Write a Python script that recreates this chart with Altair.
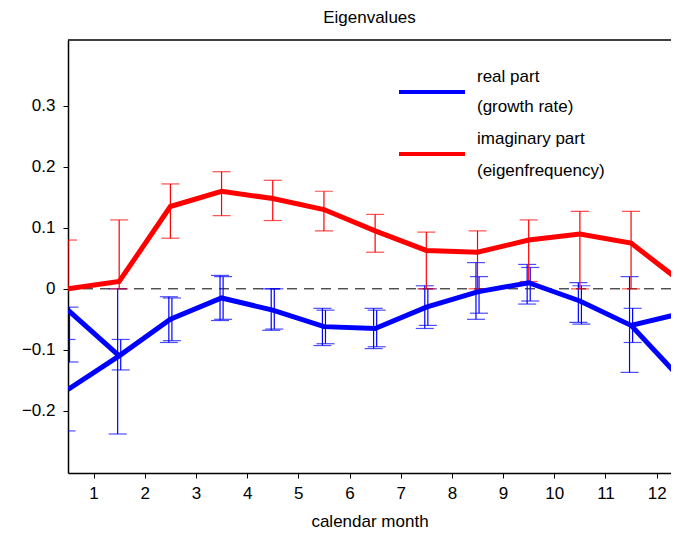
import altair as alt
import pandas as pd

x_pos = [0.5, 1.5, 2.5, 3.5, 4.5, 5.5, 6.5, 7.5, 8.5, 9.5, 10.5, 11.5, 12.5]
real_part = [-0.165, -0.11, -0.05, -0.015, -0.035, -0.062, -0.065, -0.03, -0.005, 0.01, -0.02, -0.06, -0.04]
imag_part = [0.0, 0.012, 0.135, 0.16, 0.148, 0.13, 0.095, 0.063, 0.06, 0.08, 0.09, 0.075, 0.01]
# wrap-around pieces of the real part at the two ends
wrap_x = [0.5, 1.5, 11.5, 12.5]
wrap_y = [-0.035, -0.11, -0.06, -0.15]
wrap_seg = ["a", "a", "b", "b"]

# error bars (two estimates per month for the real part)
real_err_x = [0.47, 0.53, 1.47, 1.53, 2.47, 2.53, 3.47, 3.53, 4.47, 4.53, 5.47, 5.53, 6.47, 6.53,
              7.47, 7.53, 8.47, 8.53, 9.47, 9.53, 10.47, 10.53, 11.47, 11.53]
real_lo = [-0.233, -0.12, -0.238, -0.133, -0.088, -0.085, -0.052, -0.05, -0.068, -0.066, -0.093, -0.09,
           -0.098, -0.095, -0.065, -0.06, -0.05, -0.04, -0.025, -0.02, -0.055, -0.058, -0.137, -0.088]
real_hi = [-0.083, -0.03, 0.0, -0.083, -0.013, -0.015, 0.022, 0.02, 0.0, 0.0, -0.032, -0.035,
           -0.032, -0.035, 0.005, 0.0, 0.043, 0.02, 0.04, 0.035, 0.01, 0.005, 0.02, -0.032]
imag_err_x = [0.5, 1.5, 2.5, 3.5, 4.5, 5.5, 6.5, 7.5, 8.5, 9.5, 10.5, 11.5]
imag_lo = [0.0, 0.0, 0.083, 0.12, 0.112, 0.095, 0.06, 0.0, 0.0, 0.012, 0.0, 0.0]
imag_hi = [0.08, 0.113, 0.172, 0.192, 0.178, 0.16, 0.122, 0.093, 0.095, 0.113, 0.127, 0.127]

BLUE = "#0000ff"
RED = "#ff0000"
FONT = "Liberation Sans"

# the plot runs past the right edge of the window, as in the reference
xs = alt.Scale(domain=[0.5, 12.28], nice=False, zero=False)
ys = alt.Scale(domain=[-0.302, 0.408], nice=False, zero=False)
xax = alt.Axis(values=list(range(1, 13)), title="calendar month", grid=False, tickSize=5,
               labelFontSize=17, titleFontSize=17, labelColor="black", titleColor="black",
               titleFontWeight="normal", domainColor="black", tickColor="black", labelFont=FONT,
               titleFont=FONT, titlePadding=12, labelPadding=7)
yax = alt.Axis(values=[-0.2, -0.1, 0, 0.1, 0.2, 0.3], title=None, grid=False, tickSize=5,
               labelFontSize=17, labelColor="black", domainColor="black", tickColor="black",
               labelFont=FONT, labelPadding=8,
               labelExpr="datum.value == 0 ? '0' : format(datum.value, '.1f')")

main = pd.DataFrame({"x": x_pos, "real": real_part, "imag": imag_part})
wrap = pd.DataFrame({"x": wrap_x, "y": wrap_y, "seg": wrap_seg})
rerr = pd.DataFrame({"x": real_err_x, "lo": real_lo, "hi": real_hi})
ierr = pd.DataFrame({"x": imag_err_x, "lo": imag_lo, "hi": imag_hi})

zero = alt.Chart(pd.DataFrame({"y": [0]})).mark_rule(
    color="black", strokeDash=[10, 7], strokeWidth=1).encode(
    y=alt.Y("y:Q", scale=ys, axis=yax))

top_border = alt.Chart(pd.DataFrame({"a": [0]})).mark_rule(color="black", strokeWidth=1.5).encode(
    x=alt.value(0), x2=alt.value(603), y=alt.value(0))

def errbars(df, color):
    base = alt.Chart(df)
    bar = base.mark_rule(color=color, strokeWidth=1.2, clip=True).encode(
        x=alt.X("x:Q", scale=xs, axis=xax), y=alt.Y("lo:Q", scale=ys, axis=yax), y2="hi:Q")
    cap_lo = base.mark_tick(color=color, size=18, thickness=1.2, orient="horizontal", clip=True).encode(
        x=alt.X("x:Q", scale=xs), y=alt.Y("lo:Q", scale=ys))
    cap_hi = base.mark_tick(color=color, size=18, thickness=1.2, orient="horizontal", clip=True).encode(
        x=alt.X("x:Q", scale=xs), y=alt.Y("hi:Q", scale=ys))
    return bar + cap_lo + cap_hi

real_line = alt.Chart(main).mark_line(color=BLUE, strokeWidth=5, clip=True).encode(
    x=alt.X("x:Q", scale=xs, axis=xax), y=alt.Y("real:Q", scale=ys, axis=yax))
imag_line = alt.Chart(main).mark_line(color=RED, strokeWidth=5, clip=True).encode(
    x=alt.X("x:Q", scale=xs), y=alt.Y("imag:Q", scale=ys))
wrap_line = alt.Chart(wrap).mark_line(color=BLUE, strokeWidth=5, clip=True).encode(
    x=alt.X("x:Q", scale=xs), y=alt.Y("y:Q", scale=ys), detail="seg:N")

# legend
leg_lines = alt.Chart(pd.DataFrame({"c": [BLUE, RED], "yy": [52, 114]})).mark_rule(strokeWidth=4).encode(
    x=alt.value(331), x2=alt.value(397), y=alt.Y("yy:Q", scale=None),
    color=alt.Color("c:N", scale=None))
leg_text = alt.Chart(pd.DataFrame({
    "t": ["\u00a0\u00a0real part", "(growth rate)", "\u00a0imaginary part", "(eigenfrequency)"],
    "yy": [37, 67, 99, 131]})).mark_text(align="left", fontSize=17, font=FONT, color="black").encode(
    x=alt.value(409), y=alt.Y("yy:Q", scale=None), text="t:N")

chart = alt.layer(
    zero, errbars(rerr, BLUE), errbars(ierr, RED), wrap_line, real_line, imag_line,
    leg_lines, leg_text, top_border
).properties(
    width=603, height=433,
    title=alt.TitleParams("Eigenvalues", fontSize=17, font=FONT, fontWeight="normal", offset=12),
    autosize=alt.AutoSizeParams(type="none"),
    padding={"left": 60, "top": 32, "right": 0, "bottom": 56},
).configure_view(stroke=None).configure_axis(domainWidth=1.5)

chart.save("out.html", embed_options={"renderer": "svg", "actions": False})
